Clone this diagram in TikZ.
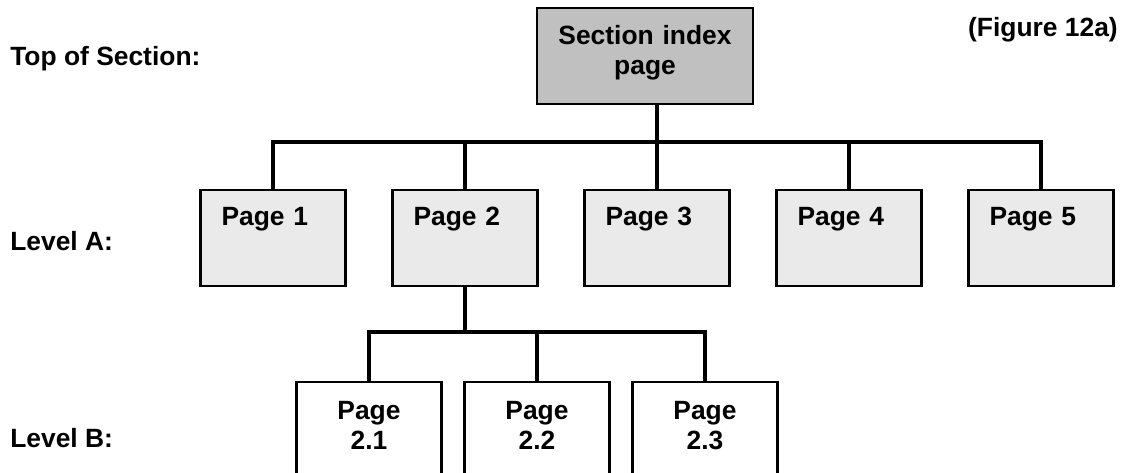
\documentclass[tikz,border=0pt]{standalone}
\usepackage{fontspec}
\setmainfont{Liberation Sans}
\usepackage{xcolor}
\usetikzlibrary{positioning}

\definecolor{secgray}{HTML}{C0C0C0}
\definecolor{pagegray}{HTML}{EAEAEA}

\begin{document}
\begin{tikzpicture}[x=0.75pt, y=-0.75pt,
    every node/.style={font=\fontsize{19.8}{22.5}\selectfont\bfseries},
    secbox/.style={draw=black, line width=1.4pt, fill=secgray, anchor=north, text width=162pt, align=center, inner sep=0pt, text height=27.75pt, text depth=44.25pt},
    pagebox/.style={draw=black, line width=1.6pt, fill=pagegray, anchor=north, text width=77.25pt, align=left, inner xsep=15.75pt, inner ysep=0pt, text height=26.25pt, text depth=45.75pt},
    subbox/.style={draw=black, line width=1.6pt, fill=white, anchor=north, text width=108.75pt, align=center, inner sep=0pt, text height=27.75pt, text depth=60pt},
    levtext/.style={anchor=base west, inner sep=0pt},
    bus/.style={line width=3pt, line join=miter}]
            \useasboundingbox (0,0) rectangle (1123,473);
            \clip (0,0) rectangle (1123,473);

            % labels at the left
            \node[levtext] (top) at (10,66) {Top of Section:};
            \node[levtext] (lva) at (10,251) {Level A:};
            \node[levtext] (lvb) at (10,447) {Level B:};
            \node[anchor=base east, inner sep=0pt] (fig) at (1118,37) {(Figure 12a)};

            % section page
            \node[secbox] (sec) at (645,7) {Section index\\page};

            % level A
            \node[pagebox] (p1) at (273,189) {Page 1};
            \node[pagebox] (p2) at (465,189) {Page 2};
            \node[pagebox] (p3) at (657,189) {Page 3};
            \node[pagebox] (p4) at (849,189) {Page 4};
            \node[pagebox] (p5) at (1041,189) {Page 5};

            % level B
            \node[subbox] (p21) at (369,381) {Page\\2.1};
            \node[subbox] (p22) at (537,381) {Page\\2.2};
            \node[subbox] (p23) at (705,381) {Page\\2.3};

            \coordinate (busa) at (657,142);
            \coordinate (busb) at (537,332);

            \draw[bus] (sec.south -| p3.north) -- (p3.north);
            \draw[bus] (p1.north) |- (busa) -| (p5.north);
            \draw[bus] (p2.north) -- (p2.north |- busa);
            \draw[bus] (p4.north) -- (p4.north |- busa);

            \draw[bus] (p2.south) -- (p2.south |- busb);
            \draw[bus] (p21.north) |- (busb) -| (p23.north);
            \draw[bus] (p22.north) -- (p22.north |- busb);
        \end{tikzpicture}
\end{document}
